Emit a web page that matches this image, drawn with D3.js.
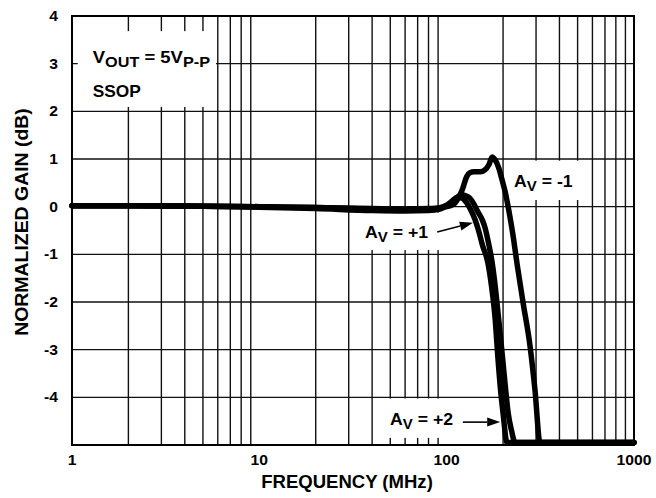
<!DOCTYPE html>
<html>
<head>
<meta charset="utf-8">
<script src="https://cdn.jsdelivr.net/npm/d3@7"></script>
<style>
  html, body { margin: 0; padding: 0; background: #fff; }
  svg { display: block; }
  text { font-family: "Liberation Sans", Arial, Helvetica, sans-serif; font-weight: bold; fill: #000; }
</style>
</head>
<body>
<svg id="chart" width="656" height="498"></svg>
<script>
// Axis ticks
const freqTickValues = [1, 10, 100, 1000];
const freqTickLabels = ["1", "10", "100", "1000"];
const gainTickValues = [4, 3, 2, 1, 0, -1, -2, -3, -4];
const gainTickLabels = ["4", "3", "2", "1", "0", "-1", "-2", "-3", "-4"];

// Normalized gain (dB) vs frequency (MHz), AV = -1
const freqAvMinus1 = [1, 2, 5, 10, 20, 40, 60, 80, 92, 100, 106, 111, 116, 121, 128, 133, 140, 151, 160, 168, 175, 180, 189, 197, 205, 214, 226, 238, 256, 279, 296, 315, 400, 600, 1000];
const gainAvMinus1 = [0.02, 0.02, 0.01, 0.0, -0.02, -0.05, -0.07, -0.06, -0.03, 0.0, 0.03, 0.08, 0.2, 0.35, 0.63, 0.71, 0.73, 0.73, 0.77, 0.88, 1.04, 1.0, 0.83, 0.58, 0.32, -0.05, -0.6, -1.22, -2.02, -2.94, -3.84, -4.95, -4.95, -4.95, -4.95];

// AV = +1
const freqAvPlus1 = [1, 2, 5, 10, 20, 40, 60, 80, 92, 100, 107, 114, 121, 128, 135, 142, 148, 155, 166, 174, 181, 188, 194, 200, 210, 300, 600, 1000];
const gainAvPlus1 = [0.02, 0.02, 0.01, 0.0, -0.02, -0.04, -0.05, -0.04, -0.02, 0.03, 0.12, 0.2, 0.18, 0.08, -0.08, -0.28, -0.5, -0.8, -1.18, -1.7, -2.3, -3.2, -3.85, -4.33, -4.95, -4.95, -4.95, -4.95];

// AV = +2
const freqAvPlus2 = [1, 2, 5, 10, 20, 40, 60, 80, 92, 100, 107, 114, 121, 128, 133, 140, 145, 155, 160, 168, 175, 182, 188, 194, 200, 206, 213, 222, 232, 300, 600, 1000];
const gainAvPlus2 = [0.02, 0.02, 0.01, -0.01, -0.04, -0.08, -0.09, -0.08, -0.05, 0.02, 0.1, 0.2, 0.25, 0.22, 0.18, 0.05, -0.07, -0.28, -0.43, -0.8, -1.18, -1.7, -2.23, -2.75, -3.28, -3.8, -4.33, -4.7, -4.95, -4.95, -4.95, -4.95];

const svg = d3.select("#chart");
const plotLeft = 72, plotRight = 634, plotTop = 16, plotBottom = 445;

const x = d3.scaleLog().domain([1, 1000]).range([plotLeft, plotRight]);
const y = d3.scaleLinear().domain([-5, 4]).range([plotBottom, plotTop]);

// Grid: every 1..9 per decade, every dB
const vGrid = [];
[1, 10, 100].forEach(d => { for (let k = 2; k <= 9; k++) vGrid.push(k * d); });
const hGrid = d3.range(-4, 4);

const grid = svg.append("g").attr("stroke", "#111").attr("stroke-width", 1.4);
grid.selectAll("line.v").data(vGrid).join("line").attr("class", "v")
  .attr("x1", d => x(d)).attr("x2", d => x(d))
  .attr("y1", plotTop).attr("y2", plotBottom);
grid.selectAll("line.h").data(hGrid).join("line").attr("class", "h")
  .attr("x1", plotLeft).attr("x2", plotRight)
  .attr("y1", d => y(d)).attr("y2", d => y(d));

// Frame
svg.append("rect")
  .attr("x", plotLeft).attr("y", plotTop)
  .attr("width", plotRight - plotLeft).attr("height", plotBottom - plotTop)
  .attr("fill", "none").attr("stroke", "#000").attr("stroke-width", 2);

// Tick labels
const tickSx = 1.12;
svg.append("g").selectAll("text").data(freqTickValues).join("text")
  .attr("transform", d => `translate(${x(d)},465) scale(${tickSx},1)`)
  .attr("text-anchor", "middle").attr("font-size", 14)
  .text((d, i) => freqTickLabels[i]);
svg.append("g").selectAll("text").data(gainTickValues).join("text")
  .attr("transform", d => `translate(58,${y(d) + 5}) scale(${tickSx},1)`)
  .attr("text-anchor", "end").attr("font-size", 14)
  .text((d, i) => gainTickLabels[i]);

// Axis titles
svg.append("text")
  .attr("transform", `translate(347,488) scale(1.03,1)`)
  .attr("text-anchor", "middle").attr("font-size", 18)
  .text("FREQUENCY (MHz)");
svg.append("text")
  .attr("transform", `translate(28,222) rotate(-90) scale(1.08,1)`)
  .attr("text-anchor", "middle").attr("font-size", 18)
  .text("NORMALIZED GAIN (dB)");

// Annotation layer: white boxes behind labels hide the grid
const notes = svg.append("g");

function boxed(g, pad) {
  const b = g.node().getBBox();
  g.insert("rect", ":first-child")
    .attr("x", b.x - pad[0]).attr("y", b.y - pad[1])
    .attr("width", b.width + pad[0] + pad[2])
    .attr("height", b.height + pad[1] + pad[3])
    .attr("fill", "#fff");
}

function avLabel(f, g, sign, pad) {
  const grp = notes.append("g");
  const t = grp.append("text")
    .attr("transform", `translate(${x(f)},${y(g)}) scale(1.07,1)`)
    .attr("font-size", 16.5);
  t.append("tspan").text("A");
  t.append("tspan").attr("font-size", 14).attr("dy", 4).text("V");
  t.append("tspan").attr("dy", -4).text(" = " + sign);
  boxed(grp, pad);
  return grp;
}

// Conditions block
const cond = notes.append("g");
const c1 = cond.append("text")
  .attr("transform", `translate(${x(1.29)},${y(3.01)}) scale(1.12,1)`)
  .attr("font-size", 16.5);
c1.append("tspan").text("V");
c1.append("tspan").attr("font-size", 14.5).attr("dy", 4).text("OUT");
c1.append("tspan").attr("dy", -4).text(" = 5V");
c1.append("tspan").attr("font-size", 14.5).attr("dy", 4).text("P-P");
cond.append("text")
  .attr("transform", `translate(${x(1.29)},${y(2.3)}) scale(1.05,1)`)
  .attr("font-size", 16.5)
  .text("SSOP");
boxed(cond, [15, 17, 6, 6]);

avLabel(229, 0.41, "-1", [9, 12, 10, 6]);
avLabel(36.7, -0.66, "+1", [10, 11, 11, 5]);
avLabel(49.9, -4.58, "+2", [10, 12, 4, 6]);

// Response curves
const line = d3.line()
  .x(d => x(d[0])).y(d => y(d[1]))
  .curve(d3.curveMonotoneX);
const series = [
  d3.zip(freqAvPlus2, gainAvPlus2),
  d3.zip(freqAvPlus1, gainAvPlus1),
  d3.zip(freqAvMinus1, gainAvMinus1)
];
svg.append("g").selectAll("path").data(series).join("path")
  .attr("d", line)
  .attr("fill", "none").attr("stroke", "#000")
  .attr("stroke-width", 5.5)
  .attr("stroke-linejoin", "round").attr("stroke-linecap", "round");

// Pointer arrows
function arrow(from, to) {
  const x0 = x(from[0]), y0 = y(from[1]);
  const x1 = x(to[0]), y1 = y(to[1]);
  const ang = Math.atan2(y1 - y0, x1 - x0);
  const len = 13, half = 4.5;
  const bx = x1 - len * Math.cos(ang), by = y1 - len * Math.sin(ang);
  svg.append("line")
    .attr("x1", x0).attr("y1", y0).attr("x2", bx).attr("y2", by)
    .attr("stroke", "#000").attr("stroke-width", 1.6);
  svg.append("path")
    .attr("d", `M${x1},${y1}L${bx + half * Math.sin(ang)},${by - half * Math.cos(ang)}L${bx - half * Math.sin(ang)},${by + half * Math.cos(ang)}Z`)
    .attr("fill", "#000");
}
arrow([89, -0.53], [138, -0.34]);
arrow([122, -4.52], [193, -4.52]);
</script>
</body>
</html>
